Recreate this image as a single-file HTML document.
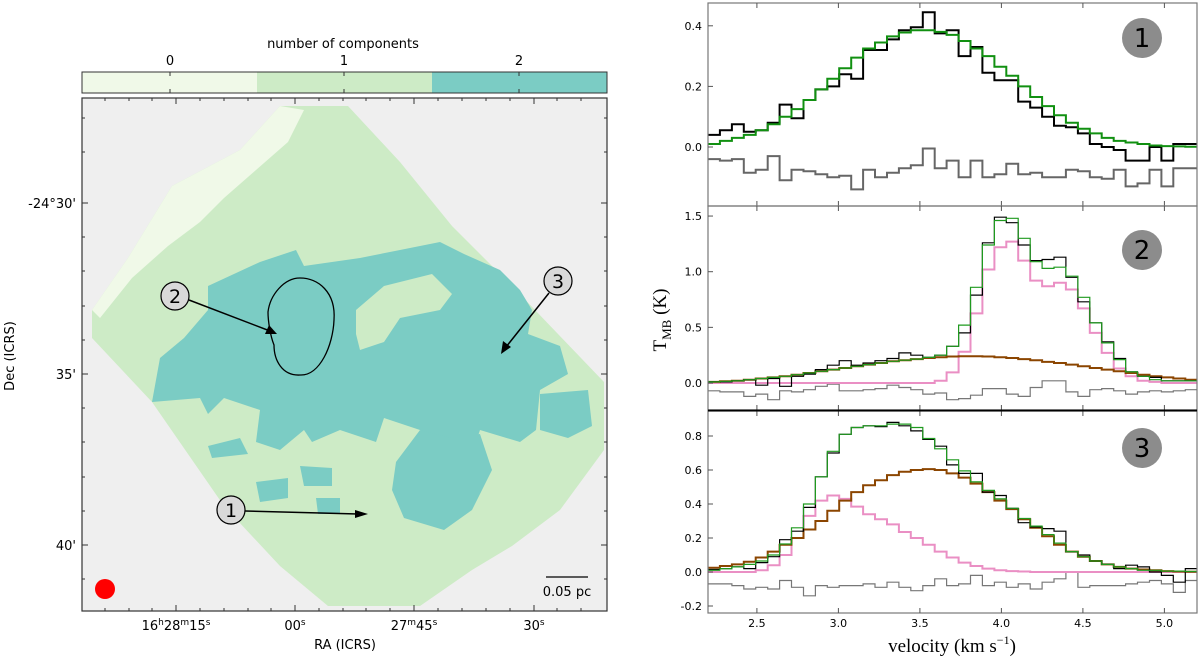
<!DOCTYPE html>
<html><head><meta charset="utf-8"><style>
html,body{margin:0;padding:0;background:#fff;}
svg{display:block;}
.sans{font-family:"DejaVu Sans","Liberation Sans",sans-serif;}
.serif{font-family:"Liberation Serif",serif;}
</style></head><body>
<svg id="fig" width="1200" height="663" viewBox="0 0 1200 663" xmlns="http://www.w3.org/2000/svg">
<g id="left">
  <text class="sans" x="343" y="48" font-size="13" text-anchor="middle">number of components</text>
  <g>
    <rect x="82" y="72" width="175" height="21" fill="#f0f9e8"/>
    <rect x="257" y="72" width="175" height="21" fill="#cdebc6"/>
    <rect x="432" y="72" width="175" height="21" fill="#7bccc4"/>
    <rect x="82" y="72" width="525" height="21" fill="none" stroke="#333" stroke-width="1"/>
    <line x1="170" y1="72" x2="170" y2="76" stroke="#333"/><line x1="170" y1="89" x2="170" y2="93" stroke="#333"/>
    <line x1="344" y1="72" x2="344" y2="76" stroke="#333"/><line x1="344" y1="89" x2="344" y2="93" stroke="#333"/>
    <line x1="519" y1="72" x2="519" y2="76" stroke="#333"/><line x1="519" y1="89" x2="519" y2="93" stroke="#333"/>
    <text class="sans" x="170" y="65" font-size="13" text-anchor="middle">0</text>
    <text class="sans" x="344" y="65" font-size="13" text-anchor="middle">1</text>
    <text class="sans" x="519" y="65" font-size="13" text-anchor="middle">2</text>
  </g>
  <rect x="82" y="98" width="525" height="513" fill="#efefef"/>
  <g transform="translate(0,30) scale(0.4)">
    <polygon fill="#cdebc6" points="700,190 870,190 1000,330 1130,490 1280,640 1510,880 1510,1050 1400,1200 1280,1290 1180,1350 1050,1440 820,1440 700,1340 560,1190 380,930 230,770 230,700 320,570 430,390 600,300"/>
    <polygon fill="#f0f9e8" points="600,300 700,190 760,200 720,280 640,350 560,420 500,480 420,540 330,620 250,720 230,700 320,570 430,390"/>
    <g fill="#7bccc4">
      <polygon points="520,640 650,580 740,550 760,590 900,570 1000,550 1100,530 1160,560 1250,600 1300,650 1330,700 1320,760 1400,790 1420,860 1350,900 1340,1000 1300,1030 1200,1000 1180,1060 1050,1000 960,970 940,1030 850,1000 780,1030 760,1000 700,1050 640,1030 650,950 560,920 520,960 500,920 380,930 400,820 460,770 520,700"/>
      <polygon points="990,1080 1050,1000 1130,1020 1200,1010 1230,1100 1180,1200 1110,1250 1010,1220 980,1150"/>
      <polygon points="1350,910 1470,900 1480,990 1420,1020 1350,1000"/>
      <polygon points="640,1130 720,1120 720,1170 650,1180"/>
      <polygon points="750,1090 830,1095 830,1140 760,1140"/>
      <polygon points="790,1170 850,1170 850,1210 795,1210"/>
      <polygon points="520,1040 600,1020 620,1060 530,1070"/>
    </g>
    <polygon fill="#cdebc6" points="890,700 960,640 1080,610 1130,660 1100,700 1000,720 960,780 900,800 890,760"/>
  </g>
  <path d="M300,278 C318,278 336,292 334,320 C333,345 320,376 300,375 C282,376 274,360 274,345 C270,335 268,320 268,312 C270,295 284,278 300,278 Z" fill="none" stroke="#000" stroke-width="1.3"/>
  <g>
    <line x1="189" y1="300" x2="270" y2="331" stroke="#000" stroke-width="1.5"/>
    <polygon points="277,334 265,334 269,325" fill="#000"/>
    <circle cx="175" cy="296" r="14" fill="#d9d9d9" stroke="#000" stroke-width="1.2"/>
    <text class="sans" x="175" y="303" font-size="19" text-anchor="middle">2</text>
  </g>
  <g>
    <line x1="549" y1="293" x2="506" y2="347" stroke="#000" stroke-width="1.5"/>
    <polygon points="501,354 503,341 511,347" fill="#000"/>
    <circle cx="558" cy="281" r="14" fill="#d9d9d9" stroke="#000" stroke-width="1.2"/>
    <text class="sans" x="558" y="288" font-size="19" text-anchor="middle">3</text>
  </g>
  <g>
    <line x1="245" y1="511" x2="358" y2="514" stroke="#000" stroke-width="1.5"/>
    <polygon points="368,514 355,510 355,518" fill="#000"/>
    <circle cx="231" cy="510" r="14" fill="#d9d9d9" stroke="#000" stroke-width="1.2"/>
    <text class="sans" x="231" y="517" font-size="19" text-anchor="middle">1</text>
  </g>
  <circle cx="105" cy="589" r="10" fill="#ff0000"/>
  <line x1="546" y1="577" x2="588" y2="577" stroke="#000" stroke-width="1.3"/>
  <text class="sans" x="567" y="596" font-size="13" text-anchor="middle">0.05 pc</text>
  <rect x="82" y="98" width="525" height="513" fill="none" stroke="#333" stroke-width="1.2"/>
  <g id="mapticks" stroke="#333" stroke-width="1"></g>
  <g class="sans" font-size="13">
    <text x="76" y="208" text-anchor="end">-24°30'</text>
    <text x="76" y="379" text-anchor="end">35'</text>
    <text x="76" y="550" text-anchor="end">40'</text>
    <text x="176" y="630" text-anchor="middle">16<tspan font-size="9" dy="-5">h</tspan><tspan dy="5">28</tspan><tspan font-size="9" dy="-5">m</tspan><tspan dy="5">15</tspan><tspan font-size="9" dy="-5">s</tspan></text>
    <text x="295" y="630" text-anchor="middle">00<tspan font-size="9" dy="-5">s</tspan></text>
    <text x="414" y="630" text-anchor="middle">27<tspan font-size="9" dy="-5">m</tspan><tspan dy="5">45</tspan><tspan font-size="9" dy="-5">s</tspan></text>
    <text x="534" y="630" text-anchor="middle">30<tspan font-size="9" dy="-5">s</tspan></text>
  </g>
  <text class="sans" x="345" y="649" font-size="13" text-anchor="middle">RA (ICRS)</text>
  <text class="sans" x="0" y="0" font-size="13" text-anchor="middle" transform="translate(14,356) rotate(-90)">Dec (ICRS)</text>
</g>
<g id="right"></g>
<text class="serif" x="0" y="0" font-size="19" text-anchor="middle" transform="translate(666,320) rotate(-90)">T<tspan font-size="13" dy="5">MB</tspan><tspan dy="-5"> (K)</tspan></text>
<text class="serif" x="952" y="652" font-size="19" text-anchor="middle">velocity  (km s<tspan font-size="12" dy="-8">−1</tspan><tspan dy="8">)</tspan></text>
</svg>
<script>
const NS='http://www.w3.org/2000/svg';
const V0=2.2, DV=0.0732;
const xTicks=[2.5,3.0,3.5,4.0,4.5,5.0];
const p1Black=[0.04,0.055,0.075,0.05,0.055,0.08,0.14,0.095,0.155,0.19,0.2,0.24,0.225,0.32,0.32,0.355,0.385,0.395,0.445,0.375,0.385,0.30,0.33,0.245,0.22,0.22,0.15,0.13,0.10,0.07,0.065,0.045,0.01,0.0,-0.01,-0.045,-0.045,0.0,-0.045,0.01,0.01];
const p1Green=[0.01,0.02,0.03,0.04,0.055,0.075,0.1,0.125,0.155,0.19,0.225,0.26,0.295,0.325,0.345,0.365,0.378,0.385,0.385,0.38,0.37,0.35,0.325,0.3,0.265,0.235,0.2,0.165,0.135,0.105,0.08,0.06,0.045,0.03,0.02,0.015,0.01,0.005,0.003,0.002,0.001];
const p1Resid=[-0.04,-0.045,-0.04,-0.085,-0.075,-0.03,-0.11,-0.075,-0.08,-0.09,-0.1,-0.095,-0.14,-0.075,-0.1,-0.085,-0.07,-0.06,-0.005,-0.07,-0.045,-0.1,-0.045,-0.1,-0.09,-0.055,-0.09,-0.085,-0.1,-0.1,-0.075,-0.08,-0.1,-0.105,-0.075,-0.13,-0.12,-0.075,-0.13,-0.07,-0.07];
const p2Black=[0.01,0.01,0.02,0.03,-0.02,0.04,-0.03,0.06,0.08,0.12,0.16,0.2,0.16,0.18,0.2,0.22,0.27,0.25,0.23,0.25,0.33,0.45,0.79,1.26,1.49,1.44,1.24,1.1,1.11,1.13,0.95,0.73,0.54,0.37,0.22,0.1,0.06,0.05,0.02,0.02,0.02];
const p2Green=[0.01,0.015,0.02,0.03,0.04,0.05,0.06,0.075,0.09,0.105,0.12,0.135,0.15,0.165,0.18,0.195,0.205,0.215,0.23,0.25,0.33,0.52,0.86,1.24,1.46,1.48,1.3,1.09,1.03,1.04,0.96,0.77,0.54,0.36,0.21,0.1,0.06,0.03,0.02,0.02,0.02];
const p2Pink=[0,0,0,0,0,0,0,0,0,0,0,0,0,0,0,0,0,0,0,0.02,0.095,0.28,0.625,1.02,1.22,1.27,1.1,0.92,0.87,0.9,0.84,0.67,0.45,0.27,0.13,0.06,0.02,0.01,0,0,0];
const p2Brown=[0.01,0.015,0.02,0.03,0.04,0.05,0.06,0.075,0.09,0.105,0.12,0.135,0.15,0.165,0.18,0.195,0.205,0.215,0.225,0.232,0.238,0.24,0.24,0.238,0.232,0.225,0.215,0.205,0.19,0.18,0.165,0.15,0.135,0.12,0.105,0.09,0.075,0.06,0.05,0.04,0.03];
const p2Resid=[-0.07,-0.08,-0.08,-0.12,-0.1,-0.15,-0.07,-0.08,-0.06,-0.03,-0.01,-0.07,-0.07,-0.06,-0.05,-0.02,-0.04,-0.06,-0.1,-0.09,-0.15,-0.14,-0.11,-0.05,-0.05,-0.1,-0.12,-0.04,0.02,0.02,-0.08,-0.12,-0.06,-0.05,-0.07,-0.1,-0.08,-0.07,-0.08,-0.07,-0.06];
const p3Black=[0.015,0.02,0.03,0.02,0.055,0.09,0.19,0.24,0.38,0.56,0.7,0.81,0.85,0.86,0.855,0.88,0.86,0.83,0.78,0.74,0.63,0.58,0.58,0.47,0.45,0.375,0.29,0.265,0.255,0.24,0.12,0.1,0.065,0.045,0.02,0.04,0.03,0.0,-0.02,-0.06,0.02];
const p3Green=[0.01,0.02,0.03,0.045,0.065,0.1,0.165,0.26,0.4,0.56,0.71,0.81,0.85,0.86,0.86,0.87,0.87,0.85,0.785,0.725,0.66,0.595,0.53,0.48,0.43,0.375,0.315,0.27,0.22,0.17,0.12,0.09,0.065,0.045,0.03,0.02,0.01,0.01,0.005,0.005,0.003];
const p3Pink=[0,0,0,0,0.01,0.04,0.1,0.2,0.33,0.42,0.45,0.43,0.385,0.34,0.31,0.28,0.235,0.2,0.16,0.12,0.085,0.055,0.035,0.02,0.01,0.005,0.003,0,0,0,0,0,0,0,0,0,0,0,0,0,0];
const p3Brown=[0.025,0.035,0.045,0.06,0.085,0.12,0.16,0.2,0.25,0.3,0.36,0.42,0.47,0.51,0.54,0.57,0.59,0.6,0.605,0.6,0.58,0.555,0.52,0.47,0.42,0.37,0.31,0.26,0.21,0.16,0.12,0.09,0.065,0.045,0.03,0.02,0.015,0.01,0.005,0.003,0.002];
const p3Resid=[-0.07,-0.07,-0.08,-0.1,-0.09,-0.1,-0.05,-0.09,-0.14,-0.08,-0.09,-0.08,-0.08,-0.07,-0.09,-0.06,-0.09,-0.11,-0.08,-0.04,-0.08,-0.07,-0.02,-0.08,-0.06,-0.09,-0.07,-0.1,-0.06,-0.04,0.0,-0.09,-0.08,-0.08,-0.08,-0.07,-0.06,-0.05,-0.07,-0.12,-0.05];
const p1Ticks=[0.0,0.2,0.4], p2Ticks=[0.0,0.5,1.0,1.5], p3Ticks=[-0.2,0.0,0.2,0.4,0.6,0.8];

const XL=708, XR=1197;
function xs(v){return XL+(v-2.2)*(XR-XL)/3.0;}
function mk(tag,attrs,parent){const e=document.createElementNS(NS,tag);for(const k in attrs)e.setAttribute(k,attrs[k]);parent.appendChild(e);return e;}
const right=document.getElementById('right');

function panel(name,top,bot,y0px,pxPerUnit,ticks,series,badge,badgeY,showX){
  const g=mk('g',{},right);
  
  
  const ys=v=>y0px-v*pxPerUnit;
  const cp='clip-'+name;
  const defs=mk('defs',{},g);const c=mk('clipPath',{id:cp},defs);mk('rect',{x:XL,y:top,width:XR-XL,height:bot-top},c);
  const sg=mk('g',{'clip-path':'url(#'+cp+')'},g);
  series.forEach(s=>{
    let d='';
    s.data.forEach((v,i)=>{const x0=xs(V0+i*DV),x1=xs(V0+(i+1)*DV),y=ys(v);d+=(i===0?'M':'L')+x0.toFixed(1)+','+y.toFixed(1)+'L'+x1.toFixed(1)+','+y.toFixed(1);});
    const p=mk('path',{d:d,fill:'none',stroke:s.color,'stroke-width':s.w},sg);
    
    
  });
  mk('rect',{x:XL,y:top,width:XR-XL,height:bot-top,fill:'none',stroke:'#777','stroke-width':1.2},g);
  ticks.forEach(t=>{
    const y=ys(t);
    mk('line',{x1:XL,y1:y,x2:XL+5,y2:y,stroke:'#555'},g);
    const tx=mk('text',{x:XL-6,y:y+4,'font-size':11,'text-anchor':'end',class:'sans'},g);
    tx.textContent=t.toFixed(1);
    
    
  });
  xTicks.forEach(t=>{
    const x=xs(t);
    mk('line',{x1:x,y1:bot,x2:x,y2:bot-5,stroke:'#555'},g);
    mk('line',{x1:x,y1:top,x2:x,y2:top+5,stroke:'#555'},g);
    if(showX){const tx=mk('text',{x:x,y:bot+14,'font-size':11,'text-anchor':'middle',class:'sans'},g);tx.textContent=t.toFixed(1);
      
      }
  });
  const bc=mk('circle',{cx:1142,cy:badgeY,r:20,fill:'#8c8c8c'},g);
  
  
  const bt=mk('text',{x:1142,y:badgeY+9,'font-size':26,'text-anchor':'middle',class:'sans'},g);bt.textContent=badge;
}
panel('spectrum-panel-1',3,206,147,303,p1Ticks,[
 {data:p1Resid,color:'#666',w:2,name:'residual-line-1'},
 {data:p1Black,color:'#000',w:2,name:'data-line-1'},
 {data:p1Green,color:'#119011',w:2,name:'fit-line-1'}],'1',38,false);
panel('spectrum-panel-2',206,410,383,111.3,p2Ticks,[
 {data:p2Resid,color:'#777',w:1.2,name:'residual-line-2'},
 {data:p2Pink,color:'#ea8fc4',w:2,name:'narrow-component-2'},
 {data:p2Brown,color:'#8b4500',w:2,name:'broad-component-2'},
 {data:p2Black,color:'#000',w:1.2,name:'data-line-2'},
 {data:p2Green,color:'#1f9a1f',w:1.2,name:'fit-line-2'}],'2',250,false);
panel('spectrum-panel-3',411,613,572,170,p3Ticks,[
 {data:p3Resid,color:'#777',w:1.2,name:'residual-line-3'},
 {data:p3Pink,color:'#ea8fc4',w:2,name:'narrow-component-3'},
 {data:p3Brown,color:'#8b4500',w:2,name:'broad-component-3'},
 {data:p3Black,color:'#000',w:1.2,name:'data-line-3'},
 {data:p3Green,color:'#1f9a1f',w:1.2,name:'fit-line-3'}],'3',448,true);
mk('line',{x1:XL,y1:410.5,x2:XR,y2:410.5,stroke:'#000','stroke-width':2},right);

const mt=document.getElementById('mapticks');
[203,374,545].forEach(y=>{mk('line',{x1:82,y1:y,x2:88,y2:y},mt);mk('line',{x1:607,y1:y,x2:601,y2:y},mt);});
[118,152,237,271,306,340,408,442,477,511,579].forEach(y=>{mk('line',{x1:82,y1:y,x2:85,y2:y},mt);mk('line',{x1:607,y1:y,x2:604,y2:y},mt);});
[176,295,414,534].forEach(x=>{mk('line',{x1:x,y1:611,x2:x,y2:605},mt);mk('line',{x1:x,y1:98,x2:x,y2:104},mt);});
[105,129,152,200,224,248,271,319,343,366,390,438,462,486,510,557,581].forEach(x=>{mk('line',{x1:x,y1:611,x2:x,y2:608},mt);mk('line',{x1:x,y1:98,x2:x,y2:101},mt);});
</script>
</body></html>
